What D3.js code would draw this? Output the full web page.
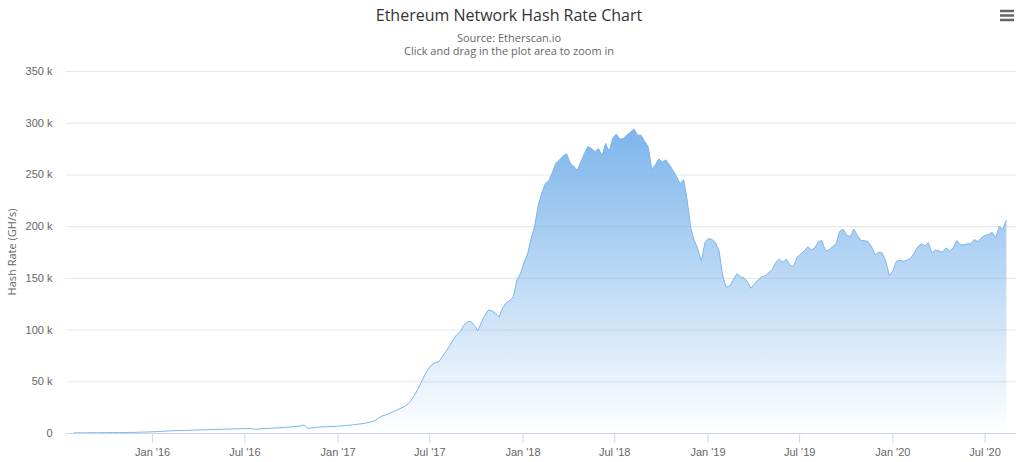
<!DOCTYPE html>
<html>
<head>
<meta charset="utf-8">
<script src="https://cdn.jsdelivr.net/npm/d3@7"></script>
<style>
  html, body { margin: 0; padding: 0; background: #fff; }
  svg { display: block; font-family: "Lucida Grande", "Lucida Sans Unicode", "Open Sans", Arial, sans-serif; }
</style>
</head>
<body>
<svg id="chart" width="1024" height="462"></svg>
<script>
// ---- Data (hash rate in thousands of GH/s, one reading per week) ----
const titleText = "Ethereum Network Hash Rate Chart";
const subtitleLines = ["Source: Etherscan.io", "Click and drag in the plot area to zoom in"];
const yAxisTitle = "Hash Rate (GH/s)";
const seriesStart = "2015-07-30";
const stepDays = 7;
const hashRate = [
  0.1, 0.15, 0.2, 0.2, 0.25, 0.3, 0.3, 0.3, 0.35, 0.35,
  0.35, 0.4, 0.4, 0.45, 0.5, 0.5, 0.55, 0.6, 0.7, 0.8,
  0.9, 1.0, 1.1, 1.2, 1.4, 1.6, 1.8, 2.0, 2.2, 2.3,
  2.4, 2.5, 2.6, 2.7, 2.8, 2.9, 3.0, 3.1, 3.2, 3.3,
  3.4, 3.5, 3.6, 3.7, 3.8, 3.9, 4.0, 4.1, 4.2, 4.3,
  4.4, 3.6, 3.8, 4.1, 4.3, 4.5, 4.7, 4.9, 5.1, 5.3,
  5.6, 5.8, 6.1, 6.4, 6.8, 7.8, 4.5, 4.8, 5.3, 5.6,
  5.9, 6.0, 6.2, 6.4, 6.5, 6.8, 7.0, 7.3, 7.6, 8.0,
  8.4, 8.9, 9.4, 10.0, 11.0, 12.0, 14.5, 16.5, 17.5, 19.0,
  20.5, 22.0, 23.5, 25.0, 27.5, 30.5, 36.0, 42.0, 49.0, 56.0,
  62.0, 66.0, 68.0, 69.0, 74.0, 79.0, 84.0, 90.0, 95.0, 98.0,
  104.0, 107.5, 108.0, 104.0, 99.0, 107.0, 114.0, 119.0, 118.0, 115.5,
  112.5, 121.0, 126.0, 128.0, 132.0, 148.0, 154.0, 165.0, 173.0, 188.0,
  200.0, 220.0, 232.0, 241.0, 244.0, 252.0, 261.0, 264.0, 268.0, 270.0,
  261.0, 258.0, 254.0, 262.0, 270.0, 277.0, 275.0, 272.0, 275.0, 268.0,
  280.0, 272.0, 285.0, 289.0, 284.0, 285.0, 288.0, 291.0, 294.0, 288.0,
  288.0, 282.0, 277.0, 255.0, 259.0, 265.0, 262.0, 264.0, 259.0, 254.0,
  248.0, 241.0, 245.0, 225.0, 198.0, 186.0, 178.0, 166.0, 184.0, 188.0,
  187.0, 184.0, 176.0, 152.0, 141.0, 142.0, 148.0, 154.0, 151.0, 150.0,
  146.0, 140.0, 144.0, 148.0, 151.0, 152.0, 155.0, 158.0, 165.0, 168.0,
  165.0, 168.0, 162.0, 161.0, 170.0, 173.0, 176.0, 180.0, 177.0, 179.0,
  185.0, 186.0, 176.0, 177.0, 180.0, 183.0, 195.0, 197.0, 191.0, 190.0,
  197.0, 191.0, 186.0, 186.0, 185.0, 180.0, 172.0, 175.0, 174.0, 166.0,
  152.0, 157.0, 166.0, 167.0, 166.0, 167.0, 169.0, 174.0, 180.0, 183.0,
  181.0, 184.0, 174.0, 177.0, 176.0, 175.0, 179.0, 176.0, 179.0, 186.0,
  182.0, 182.0, 183.0, 183.0, 187.0, 185.0, 189.0, 191.0, 192.0, 194.0,
  189.0, 200.0, 197.0, 206.0
];
const xTickDates = ["2016-01-01", "2016-07-01", "2017-01-01", "2017-07-01", "2018-01-01",
                    "2018-07-01", "2019-01-01", "2019-07-01", "2020-01-01", "2020-07-01"];
const xTickLabels = ["Jan '16", "Jul '16", "Jan '17", "Jul '17", "Jan '18",
                     "Jul '18", "Jan '19", "Jul '19", "Jan '20", "Jul '20"];
const yTickValues = [0, 50, 100, 150, 200, 250, 300, 350];
const yTickLabels = ["0", "50 k", "100 k", "150 k", "200 k", "250 k", "300 k", "350 k"];
const xDomain = ["2015-07-14", "2020-09-01"];

// ---- Build ----
const parse = d3.utcParse("%Y-%m-%d");
const start = parse(seriesStart);
const points = hashRate.map((v, i) => ({ date: d3.utcDay.offset(start, i * stepDays), value: v }));

const svg = d3.select("#chart");
const plot = { left: 65.5, right: 1016, top: 71, bottom: 433 };

const x = d3.scaleUtc().domain(xDomain.map(parse)).range([plot.left, plot.right]);
const y = d3.scaleLinear().domain([0, 350]).range([plot.bottom, plot.top]);

// gradient
const defs = svg.append("defs");
const grad = defs.append("linearGradient").attr("id", "areaGrad")
  .attr("x1", 0).attr("y1", 0).attr("x2", 0).attr("y2", 1);
grad.append("stop").attr("offset", 0).attr("stop-color", "#7cb5ec").attr("stop-opacity", 1);
grad.append("stop").attr("offset", 1).attr("stop-color", "#7cb5ec").attr("stop-opacity", 0);

// gridlines + y labels
const yAxis = d3.axisLeft(y).tickValues(yTickValues)
  .tickSize(-(plot.right - plot.left))
  .tickFormat((d, i) => yTickLabels[i]);
const gy = svg.append("g").attr("transform", `translate(${plot.left},0)`).call(yAxis);
gy.select(".domain").remove();
gy.selectAll(".tick line").attr("stroke", "#e6e6e6").attr("stroke-width", 1);
gy.selectAll(".tick text").attr("x", -13).attr("dy", "0.32em")
  .attr("fill", "#666").style("font-size", "11px");

// area + line
const area = d3.area().x(d => x(d.date)).y0(y(0)).y1(d => y(d.value)).curve(d3.curveLinear);
const line = d3.line().x(d => x(d.date)).y(d => y(d.value)).curve(d3.curveLinear);
svg.append("path").datum(points).attr("d", area).attr("fill", "url(#areaGrad)");
svg.append("path").datum(points).attr("d", line).attr("fill", "none")
  .attr("stroke", "#7cb5ec").attr("stroke-width", 1);

// x axis
const xAxis = d3.axisBottom(x).tickValues(xTickDates.map(parse))
  .tickSize(10).tickPadding(5)
  .tickFormat((d, i) => xTickLabels[i]);
const gx = svg.append("g").attr("transform", `translate(0,${plot.bottom})`).call(xAxis);
gx.select(".domain").attr("stroke", "#ccd6eb").attr("d", `M${plot.left},0.5H${plot.right}`);
gx.selectAll(".tick line").attr("stroke", "#ccd6eb");
gx.selectAll(".tick text").attr("fill", "#666").style("font-size", "11px");

// y axis title
svg.append("text")
  .attr("transform", `translate(16,${(plot.top + plot.bottom) / 2 + 0}) rotate(-90)`)
  .attr("text-anchor", "middle").attr("fill", "#666").style("font-size", "11px")
  .text(yAxisTitle);

// title & subtitle
svg.append("text").attr("x", 509).attr("y", 21).attr("text-anchor", "middle")
  .attr("fill", "#333").style("font-size", "16px").text(titleText);
subtitleLines.forEach((t, i) => {
  svg.append("text").attr("x", 509).attr("y", 42 + i * 13).attr("text-anchor", "middle")
    .attr("fill", "#666").style("font-size", "11px").text(t);
});

// menu icon
[11, 15.5, 20].forEach(yy => {
  svg.append("line").attr("x1", 1000).attr("x2", 1014).attr("y1", yy).attr("y2", yy)
    .attr("stroke", "#666").attr("stroke-width", 2.5);
});
</script>
</body>
</html>
